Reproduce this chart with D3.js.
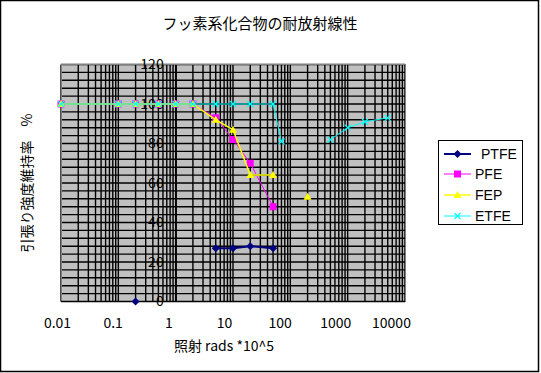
<!DOCTYPE html>
<html>
<head>
<meta charset="utf-8">
<script src="https://cdn.jsdelivr.net/npm/d3@7"></script>
<style>
  body { margin: 0; background: #fff; }
  svg { display: block; }
  .jp { font-family: "Noto Sans CJK JP", sans-serif; }
  .lat { font-family: "Liberation Sans", Arial, sans-serif; }
</style>
</head>
<body>
<div id="chart"></div>
<script>
// dose (rads *10^5) for each row of the sheet
const doses = [0.01, 0.1, 0.2, 0.5, 1, 2, 5, 10, 20, 50, 70, 100, 200, 500, 1000, 2000, 5000];
// retention % per material, null = empty cell (gap in line)
const ptfe = [null, null, 0, null, null, null, 27, 27, 28, 27, null, null, null, null, null, null, null];
const pfe  = [100, 100, 100, 100, 100, 100, 93, 82, 70, 48, null, null, null, null, null, null, null];
const fep  = [100, 100, 100, 100, 100, 100, 92, 87, 64, 64, null, null, 53, null, null, null, null];
const etfe = [100, 100, 100, 100, 100, 100, 100, 100, 100, 100, 81, null, null, 82, 88, 91, 93];

const seriesNames = ["PTFE", "PFE", "FEP", "ETFE"];
const xTickValues = [0.01, 0.1, 1, 10, 100, 1000, 10000];
const xTickLabels = ["0.01", "0.1", "1", "10", "100", "1000", "10000"];
const yTickValues = [0, 20, 40, 60, 80, 100, 120];

const w = 541, h = 373;
const plot = { left: 61, right: 405, top: 64.5, bottom: 301.5 };

const svg = d3.select("#chart").append("svg")
  .attr("width", w)
  .attr("height", h);

// outer chart border
svg.append("rect")
  .attr("x", 0.5).attr("y", 0.5)
  .attr("width", 538).attr("height", 371)
  .attr("fill", "#fff")
  .attr("stroke", "#000")
  .attr("stroke-width", 1.5);

const x = d3.scaleLog().domain([0.01, 10000]).range([plot.left, plot.right]);
const y = d3.scaleLinear().domain([0, 120]).range([plot.bottom, plot.top]);
// excel spaced the category labels a touch tighter than the grid
const xLab = d3.scaleLog().domain([0.01, 10000]).range([57.5, 391.5]);

// plot area
svg.append("rect")
  .attr("x", plot.left).attr("y", plot.top)
  .attr("width", plot.right - plot.left)
  .attr("height", plot.bottom - plot.top)
  .attr("fill", "#c0c0c0");

const grid = svg.append("g")
  .attr("stroke", "#000")
  .attr("stroke-width", 1.4);

grid.selectAll(".vg")
  .data(x.ticks())
  .enter().append("line")
  .attr("x1", (d) => x(d)).attr("x2", (d) => x(d))
  .attr("y1", plot.top).attr("y2", plot.bottom);

grid.selectAll(".hg")
  .data(d3.range(4, 121, 4))
  .enter().append("line")
  .attr("x1", plot.left).attr("x2", plot.right)
  .attr("y1", (d) => y(d)).attr("y2", (d) => y(d));

// plot border
svg.append("rect")
  .attr("x", plot.left).attr("y", plot.top)
  .attr("width", plot.right - plot.left)
  .attr("height", plot.bottom - plot.top)
  .attr("fill", "none")
  .attr("stroke", "#808080")
  .attr("shape-rendering", "crispEdges");

// x axis line at value 0
svg.append("line")
  .attr("x1", plot.left).attr("x2", plot.right)
  .attr("y1", y(0)).attr("y2", y(0))
  .attr("stroke", "#000")
  .attr("stroke-width", 1.5);

// y axis crosses at 1
const yAxis = d3.axisLeft(y).tickValues(yTickValues).tickSize(0).tickPadding(12);
const yg = svg.append("g")
  .attr("transform", "translate(" + x(1) + ",0)")
  .call(yAxis);
yg.select(".domain").attr("stroke", "#000").attr("stroke-width", 1.5);
yg.selectAll("text")
  .attr("class", "jp")
  .attr("font-size", 14)
  .attr("fill", "#000");

// x labels under the plot
svg.selectAll(".xl")
  .data(xTickValues)
  .enter().append("text")
  .attr("class", "jp")
  .attr("x", (d) => xLab(d))
  .attr("y", 328)
  .attr("text-anchor", "middle")
  .attr("font-size", 14)
  .text((d, i) => xTickLabels[i]);

// series
const colors = ["#000080", "#ff00ff", "#ffff00", "#00ffff"];
const widths = [2, 1, 1.5, 1];
const allSeries = [ptfe, pfe, fep, etfe];

function marker(g, i, cx, cy) {
  if (i === 0) {
    g.append("path")
      .attr("d", "M" + cx + "," + (cy - 4) + "L" + (cx + 4) + "," + cy + "L" + cx + "," + (cy + 4) + "L" + (cx - 4) + "," + cy + "Z")
      .attr("fill", colors[0]);
  } else if (i === 1) {
    g.append("rect")
      .attr("x", cx - 3.5).attr("y", cy - 3.5)
      .attr("width", 7).attr("height", 7)
      .attr("fill", colors[1]);
  } else if (i === 2) {
    g.append("path")
      .attr("d", "M" + cx + "," + (cy - 4) + "L" + (cx + 4) + "," + (cy + 3) + "L" + (cx - 4) + "," + (cy + 3) + "Z")
      .attr("fill", colors[2]);
  } else {
    g.append("path")
      .attr("d", "M" + (cx - 3) + "," + (cy - 3) + "L" + (cx + 3) + "," + (cy + 3) + "M" + (cx + 3) + "," + (cy - 3) + "L" + (cx - 3) + "," + (cy + 3))
      .attr("stroke", colors[3])
      .attr("stroke-width", 1.2);
  }
}

allSeries.forEach((vals, i) => {
  const pts = doses.map((d, k) => ({ d: d, v: vals[k] }));
  const line = d3.line()
    .defined((p) => p.v !== null)
    .x((p) => x(p.d))
    .y((p) => y(p.v));
  const g = svg.append("g");
  g.append("path")
    .attr("d", line(pts))
    .attr("fill", "none")
    .attr("stroke", colors[i])
    .attr("stroke-width", widths[i]);
  pts.filter((p) => p.v !== null).forEach((p) => marker(g, i, x(p.d), y(p.v)));
});

// legend
const leg = svg.append("g");
leg.append("rect")
  .attr("x", 438.5).attr("y", 140.5)
  .attr("width", 84).attr("height", 84)
  .attr("fill", "#fff")
  .attr("stroke", "#000");
const legY = [154, 174, 195, 216];
seriesNames.forEach((name, i) => {
  const g = leg.append("g");
  g.append("line")
    .attr("x1", 444).attr("x2", 471)
    .attr("y1", legY[i]).attr("y2", legY[i])
    .attr("stroke", colors[i])
    .attr("stroke-width", widths[i]);
  marker(g, i, 457.5, legY[i]);
  g.append("text")
    .attr("class", "lat")
    .attr("x", i === 0 ? 481 : 475)
    .attr("y", legY[i] + 5)
    .attr("font-size", 14)
    .text(name);
});

// titles
svg.append("text")
  .attr("class", "jp")
  .attr("x", 260).attr("y", 29)
  .attr("text-anchor", "middle")
  .attr("font-size", 15)
  .text("フッ素系化合物の耐放射線性");

svg.append("text")
  .attr("class", "jp")
  .attr("text-anchor", "middle")
  .attr("transform", "translate(32,183)rotate(-90)")
  .attr("font-size", 14)
  .text("引張り強度維持率　%");

svg.append("text")
  .attr("class", "jp")
  .attr("x", 224).attr("y", 351)
  .attr("text-anchor", "middle")
  .attr("font-size", 14)
  .text("照射 rads *10^5");
</script>
</body>
</html>
